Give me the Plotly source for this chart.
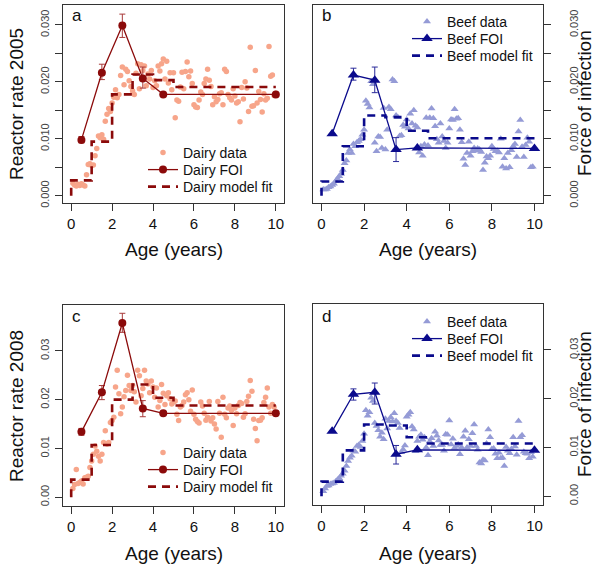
import plotly.graph_objects as go

# ages in years (monthly) for the reactor-rate data
ages = [m / 12 for m in range(1, 121)]

dairy05 = [.0022, .0019, .0017, .0020, .0018, .0021, .0019, .0017, .0037, .0055, .0056, .0053,
           .0054, .0070, .0083, .0105, .0102, .0107, .0099, .0131, .0143, .0153, .0148, .0163,
           .0173, .0186, .0172, .0178, .0211, .0226, .0195, .0222, .0218, .0202, .0192, .0184,
           .0178, .0215, .0232, .0188, .0230, .0220, .0228, .0193, .0214, .0205, .0220, .0190,
           .0202, .0193, .0228, .0219, .0232, .0240, .0205, .0236, .0198, .0216, .0186, .0216,
           .0137, .0168, .0166, .0191, .0217, .0188, .0218, .0235, .0209, .0219, .0197, .0160,
           .0156, .0155, .0168, .0182, .0178, .0197, .0205, .0222, .0203, .0192, .0160, .0174,
           .0165, .0169, .0179, .0181, .0160, .0222, .0218, .0178, .0172, .0168, .0188, .0175,
           .0163, .0165, .0130, .0190, .0170, .0200, .0189, .0148, .0261, .0157, .0158, .0220,
           .0163, .0183, .0169, .0147, .0179, .0168, .0171, .0262, .0210, .0212, .0176, .0180]

beef05 = [.0011, .0011, .0012, .0015, .0016, .0019, .0021, .0026, .0030, .0034, .0038, .0045,
          .0057, .0062, .0075, .0081, .0075, .0091, .0087, .0094, .0096, .0099, .0107, .0116,
          .0167, .0161, .0155, .0201, .0196, .0093, .0078, .0104, .0103, .0084, .0154, .0081,
          .0116, .0156, .0152, .0204, .0201, .0141, .0138, .0105, .0106, .0124, .0121, .0134,
          .0118, .0144, .0127, .0150, .0123, .0120, .0076, .0087, .0070, .0090, .0137, .0088,
          .0137, .0153, .0136, .0122, .0099, .0093, .0127, .0104, .0096, .0084, .0093, .0118,
          .0134, .0133, .0152, .0135, .0136, .0116, .0094, .0065, .0054, .0075, .0095, .0070,
          .0078, .0084, .0079, .0083, .0081, .0077, .0045, .0058, .0069, .0066, .0070, .0087,
          .0082, .0078, .0079, .0076, .0100, .0051, .0066, .0048, .0075, .0050, .0080, .0087,
          .0091, .0068, .0113, .0133, .0086, .0068, .0089, .0102, .0095, .0050, .0051, .0083]

dairy08 = [.0018, .0026, .0057, .0028, .0030, .0033, .0027, .0040, .0041, .0043, .0061, .0074,
           .0088, .0105, .0094, .0084, .0074, .0088, .0112, .0136, .0109, .0112, .0153, .0157,
           .0164, .0226, .0260, .0212, .0171, .0185, .0206, .0219, .0250, .0229, .0219, .0229,
           .0216, .0195, .0260, .0249, .0208, .0223, .0260, .0238, .0232, .0214, .0238, .0226,
           .0205, .0224, .0185, .0198, .0231, .0213, .0190, .0208, .0214, .0202, .0191, .0195,
           .0197, .0170, .0157, .0185, .0188, .0195, .0210, .0214, .0200, .0176, .0220, .0170,
           .0160, .0155, .0152, .0195, .0187, .0172, .0158, .0164, .0196, .0156, .0163, .0150,
           .0140, .0196, .0172, .0123, .0205, .0170, .0163, .0183, .0187, .0178, .0147, .0183,
           .0171, .0188, .0194, .0192, .0164, .0171, .0196, .0207, .0239, .0217, .0160, .0141,
           .0116, .0157, .0158, .0163, .0194, .0205, .0224, .0185, .0172, .0190, .0185, .0170]

beef08 = [.0010, .0016, .0021, .0022, .0025, .0026, .0027, .0030, .0034, .0037, .0042, .0046,
          .0052, .0062, .0072, .0079, .0083, .0093, .0091, .0103, .0105, .0101, .0113, .0128,
          .0176, .0165, .0172, .0202, .0195, .0150, .0144, .0135, .0122, .0130, .0117, .0159,
          .0139, .0154, .0162, .0153, .0170, .0154, .0150, .0140, .0090, .0096, .0104, .0163,
          .0167, .0172, .0143, .0137, .0092, .0113, .0122, .0126, .0116, .0121, .0100, .0084,
          .0112, .0119, .0103, .0132, .0124, .0114, .0105, .0105, .0093, .0127, .0126, .0155,
          .0106, .0118, .0099, .0103, .0106, .0086, .0100, .0122, .0134, .0100, .0117, .0103,
          .0129, .0147, .0103, .0095, .0069, .0067, .0075, .0073, .0108, .0137, .0121, .0097,
          .0098, .0087, .0078, .0089, .0078, .0079, .0062, .0101, .0093, .0088, .0097, .0121,
          .0102, .0085, .0154, .0121, .0125, .0091, .0088, .0087, .0078, .0090, .0081, .0094]

# force of infection estimates (age class midpoints)
foi_age = [0.5, 1.5, 2.5, 3.5, 4.5, 10]
dairy05_foi = [0.0098, 0.0216, 0.0299, 0.0206, 0.0178, 0.0178]
dairy05_hi = [0.0104, 0.0231, 0.0319, 0.0226, 0.0178, 0.0178]
dairy05_lo = [0.0093, 0.0204, 0.0278, 0.0189, 0.0178, 0.0178]
beef05_foi = [0.0109, 0.0212, 0.0203, 0.0081, 0.0084, 0.0083]
beef05_hi = [0.0109, 0.0224, 0.0226, 0.0102, 0.0084, 0.0083]
beef05_lo = [0.0109, 0.0203, 0.0181, 0.0060, 0.0084, 0.0083]
dairy08_foi = [0.0134, 0.0215, 0.0357, 0.0182, 0.0172, 0.0172]
dairy08_hi = [0.0141, 0.0229, 0.0377, 0.0198, 0.0172, 0.0172]
dairy08_lo = [0.0127, 0.0200, 0.0338, 0.0165, 0.0172, 0.0172]
beef08_foi = [0.0133, 0.0209, 0.0213, 0.0086, 0.0095, 0.0094]
beef08_hi = [0.0133, 0.0220, 0.0232, 0.0104, 0.0095, 0.0094]
beef08_lo = [0.0133, 0.0197, 0.0189, 0.0066, 0.0095, 0.0094]

# step model fits
fit_age = [0, 0, 1, 2, 3, 4, 5, 10]
dairy05_fit = [0, 0.0027, 0.0095, 0.0178, 0.0213, 0.0203, 0.0191, 0.0191]
beef05_fit = [0, 0.0025, 0.0087, 0.0141, 0.0138, 0.0114, 0.0101, 0.0101]
dairy08_fit = [0, 0.0036, 0.0107, 0.0200, 0.0231, 0.0204, 0.0188, 0.0188]
beef08_fit = [0, 0.0030, 0.0094, 0.0147, 0.0145, 0.0121, 0.0108, 0.0108]

DAIRY_PT = "#F7A58A"
DAIRY = "#8B0A0A"
DAIRY_ERR = "#A83A3A"
BEEF_PT = "#959BD6"
BEEF = "#0A0A8C"
BEEF_ERR = "#2A2A9A"
FONT = "Liberation Sans, Arial, sans-serif"

W, H = 600, 569


def px(x0, x1):
    return [x0 / W, x1 / W]


def py(top, bottom):
    return [1 - bottom / H, 1 - top / H]


fig = go.Figure()

# axis id, data, foi, hi, lo, fit, kind, legend left x, legend row centres
panels = [
    ("", dairy05, dairy05_foi, dairy05_hi, dairy05_lo, dairy05_fit, "Dairy", 143, [153, 170, 187]),
    ("2", beef05, beef05_foi, beef05_hi, beef05_lo, beef05_fit, "Beef", 407, [22, 39, 56]),
    ("3", dairy08, dairy08_foi, dairy08_hi, dairy08_lo, dairy08_fit, "Dairy", 143, [453, 470, 487]),
    ("4", beef08, beef08_foi, beef08_hi, beef08_lo, beef08_fit, "Beef", 407, [322, 339, 356]),
]

legends = {}
n = 0
for ax, data, foi, hi, lo, fit, kind, lx, rows in panels:
    dairy = kind == "Dairy"
    pt_col = DAIRY_PT if dairy else BEEF_PT
    col = DAIRY if dairy else BEEF
    xa, ya = "x" + ax, "y" + ax
    names = []
    for r in rows:
        n += 1
        key = "legend" if n == 1 else "legend%d" % n
        legends[key] = (lx, r)
        names.append(key)
    fig.add_trace(go.Scatter(
        x=ages, y=data, mode="markers", name=kind + " data", legend=names[0],
        xaxis=xa, yaxis=ya,
        marker=dict(color=pt_col, size=5.5 if dairy else 7,
                    symbol="circle" if dairy else "triangle-up", line=dict(width=0))))
    fig.add_trace(go.Scatter(
        x=fit_age, y=fit, mode="lines", name=kind + " model fit", legend=names[2],
        xaxis=xa, yaxis=ya, line=dict(color=col, width=2.6, dash="8px,6px", shape="hv")))
    fig.add_trace(go.Scatter(
        x=foi_age, y=foi, mode="lines+markers", name=kind + " FOI", legend=names[1],
        xaxis=xa, yaxis=ya,
        line=dict(color=col, width=1.3),
        marker=dict(color=col, size=8 if dairy else 10,
                    symbol="circle" if dairy else "triangle-up"),
        error_y=dict(type="data", symmetric=False,
                     array=[h - f for h, f in zip(hi, foi)],
                     arrayminus=[f - l for l, f in zip(lo, foi)],
                     color=DAIRY_ERR if dairy else BEEF_ERR, thickness=1, width=3)))

axis_common = dict(showline=True, linecolor="#333", linewidth=1, mirror=True,
                   ticks="outside", ticklen=7, tickcolor="#333", showgrid=False,
                   zeroline=False, automargin=False)
xstyle = dict(axis_common, range=[-0.4, 10.4], tickvals=[0, 2, 4, 6, 8, 10],
              tickfont=dict(size=15, color="#111"))

yvals05 = [0, 0.005, 0.01, 0.015, 0.02, 0.025, 0.03]
ytext05 = ["0.000", "", "0.010", "", "0.020", "", "0.030"]
yvals08 = [0, 0.01, 0.02, 0.03]
ytext08 = ["0.00", "0.01", "0.02", "0.03"]
ystyle = dict(axis_common, tickangle=-90, tickfont=dict(size=11, color="#444"))

fig.update_layout(
    width=W, height=H, margin=dict(l=0, r=0, t=0, b=0, autoexpand=False),
    plot_bgcolor="white", paper_bgcolor="white",
    font=dict(family=FONT, color="#111"),
    showlegend=True,
    xaxis=dict(xstyle, domain=px(63, 284), anchor="y"),
    yaxis=dict(ystyle, domain=py(5, 203), anchor="x", range=[-0.00128, 0.0335],
               tickvals=yvals05, ticktext=ytext05, ticklabelstandoff=2),
    xaxis2=dict(xstyle, domain=px(313, 543), anchor="y2"),
    yaxis2=dict(ystyle, domain=py(5, 203), anchor="x2", side="right",
                range=[-0.00128, 0.0335],
                tickvals=yvals05, ticktext=ytext05, ticklabelstandoff=14),
    xaxis3=dict(xstyle, domain=px(63, 284), anchor="y3"),
    yaxis3=dict(ystyle, domain=py(305, 506), anchor="x3", range=[-0.0018, 0.0394],
                tickvals=yvals08, ticktext=ytext08, ticklabelstandoff=2),
    xaxis4=dict(xstyle, domain=px(313, 543), anchor="y4"),
    yaxis4=dict(ystyle, domain=py(304, 505), anchor="x4", side="right",
                range=[-0.0018, 0.0394],
                tickvals=yvals08, ticktext=ytext08, ticklabelstandoff=14),
)

for key, (lx, ly) in legends.items():
    fig.update_layout({key: dict(font=dict(size=14, family=FONT, color="#111"),
                                 bgcolor="rgba(0,0,0,0)", xanchor="left", yanchor="middle",
                                 x=lx / W, y=1 - ly / H, itemwidth=30)})

annots = [
    ("a", 70, 15), ("b", 320, 15), ("c", 70, 316), ("d", 320, 316),
]
for t, x, y in annots:
    fig.add_annotation(text=t, x=x / W, y=1 - y / H, xref="paper", yref="paper",
                       xanchor="left", yanchor="middle", showarrow=False,
                       font=dict(size=17, family=FONT, color="#111"))

titles = [
    ("Age (years)", 174, 250, 0), ("Age (years)", 428, 250, 0),
    ("Age (years)", 174, 553, 0), ("Age (years)", 428, 553, 0),
    ("Reactor rate 2005", 16, 104, -90), ("Reactor rate 2008", 16, 406, -90),
    ("Force of infection", 584, 103, -90), ("Force of infection", 584, 404, -90),
]
for t, x, y, a in titles:
    fig.add_annotation(text=t, x=x / W, y=1 - y / H, xref="paper", yref="paper",
                       xanchor="center", yanchor="middle", showarrow=False, textangle=a,
                       font=dict(size=19, family=FONT, color="#111"))

# the page body has a default 8px margin; drop it so the figure fills the window
fig.write_html("out.html", config={"displayModeBar": False},
               post_script="document.body.style.margin='0px';")
